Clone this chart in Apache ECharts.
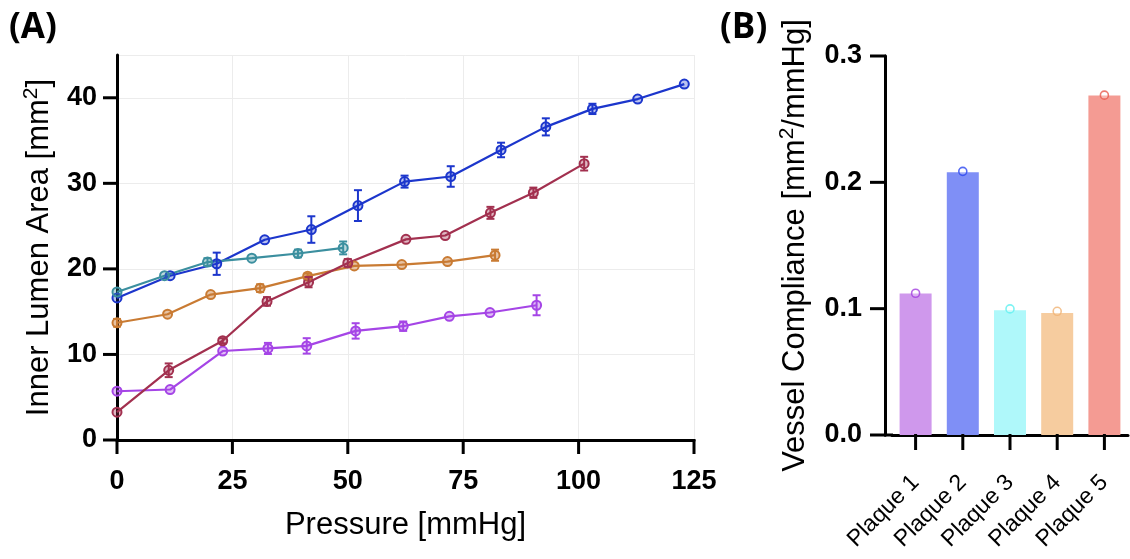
<!DOCTYPE html>
<html>
<head>
<meta charset="utf-8">
<script src="https://cdn.jsdelivr.net/npm/echarts@6/dist/echarts.min.js"></script>
<style>
  html, body { margin: 0; padding: 0; background: #fff; }
  #chart { width: 1130px; height: 559px; }
</style>
</head>
<body>
<div id="chart"></div>
<script>
// (A) Inner lumen area vs. pressure, one line per plaque (mean ± error)
const plaque1X = [0, 11.5, 22.9, 32.7, 41.1, 51.7, 62.0, 72.0, 80.8, 90.9];
const plaque1Y = [5.7, 5.9, 10.4, 10.7, 11.0, 12.75, 13.3, 14.45, 14.9, 15.75];
const plaque1Err = [0, 0, 0, 0.65, 0.9, 0.9, 0.55, 0, 0, 1.17];

const plaque2X = [0, 11.5, 21.6, 32.0, 42.1, 52.2, 62.3, 72.3, 83.2, 92.9, 103.0, 112.8, 122.9];
const plaque2Y = [16.6, 19.2, 20.6, 23.4, 24.6, 27.4, 30.2, 30.8, 33.9, 36.6, 38.7, 39.85, 41.6];
const plaque2Err = [0, 0, 1.3, 0, 1.55, 1.8, 0.7, 1.2, 0.85, 1.0, 0.6, 0, 0];

const plaque3X = [0, 10.3, 19.6, 29.2, 39.2, 49.0];
const plaque3Y = [17.3, 19.2, 20.8, 21.25, 21.8, 22.45];
const plaque3Err = [0, 0, 0.45, 0, 0.45, 0.75];

const plaque4X = [0, 10.95, 20.3, 31.0, 41.3, 51.4, 61.7, 71.6, 81.9];
const plaque4Y = [13.7, 14.7, 17.0, 17.75, 19.15, 20.35, 20.5, 20.85, 21.6];
const plaque4Err = [0.45, 0, 0, 0.45, 0.3, 0, 0, 0, 0.65];

const plaque5X = [0, 11.2, 22.9, 32.5, 41.5, 50.0, 62.6, 71.1, 80.9, 90.2, 101.2];
const plaque5Y = [3.25, 8.15, 11.6, 16.2, 18.45, 20.7, 23.45, 23.9, 26.55, 28.9, 32.3];
const plaque5Err = [0, 0.8, 0.3, 0.5, 0.6, 0.45, 0, 0, 0.7, 0.6, 0.8];

const pressureTicks = [0, 25, 50, 75, 100, 125];
const areaTicks = [0, 10, 20, 30, 40];

// (B) Vessel compliance per plaque
const plaqueNames = ['Plaque 1', 'Plaque 2', 'Plaque 3', 'Plaque 4', 'Plaque 5'];
const complianceMean = [0.112, 0.208, 0.0987, 0.0966, 0.2688];
const compliancePoint = [0.1122, 0.2087, 0.0998, 0.0979, 0.269];
const complianceTicks = [0, 0.1, 0.2, 0.3];

const lineColors = ['#a545e6', '#1c36cc', '#3b8f9f', '#c97b33', '#a2304f'];
const markerFills = ['rgba(165,69,230,0.35)', 'rgba(28,54,204,0.3)', 'rgba(59,143,159,0.35)', 'rgba(201,123,51,0.45)', 'rgba(162,48,79,0.35)'];
const barColors = ['#cf98ec', '#7f8ff6', '#aff8fa', '#f6cc9f', '#f49b93'];
const dotColors = ['#a23fe0', '#2b46f0', '#5ef0f0', '#f0b272', '#e95a4c'];

const TEXT = '"Liberation Sans", Arial, sans-serif';
const VALUE_AXIS_OFFSET = 7;

const lineSets = [
  [plaque1X, plaque1Y, plaque1Err],
  [plaque2X, plaque2Y, plaque2Err],
  [plaque3X, plaque3Y, plaque3Err],
  [plaque4X, plaque4Y, plaque4Err],
  [plaque5X, plaque5Y, plaque5Err]
];

function errorBarRender(params, api) {
  const err = api.value(2);
  if (!err) return null;
  const x = api.value(0), y = api.value(1);
  const top = api.coord([x, y + err]);
  const bot = api.coord([x, y - err]);
  const cap = 4;
  const style = { stroke: api.visual('color'), lineWidth: 2 };
  return {
    type: 'group',
    children: [
      { type: 'line', shape: { x1: top[0], y1: top[1], x2: bot[0], y2: bot[1] }, style },
      { type: 'line', shape: { x1: top[0] - cap, y1: top[1], x2: top[0] + cap, y2: top[1] }, style },
      { type: 'line', shape: { x1: bot[0] - cap, y1: bot[1], x2: bot[0] + cap, y2: bot[1] }, style }
    ]
  };
}

// outward tick marks, placed through the axis scales
function tickRenderer(dir, len, shift) {
  return function (params, api) {
    const p = api.coord([api.value(0), api.value(1)]);
    const tickStyle = { stroke: '#000', lineWidth: 3 };
    if (dir === 'down') {
      return { type: 'line', shape: { x1: p[0], y1: p[1] - 1, x2: p[0], y2: p[1] + len }, style: tickStyle };
    }
    const x0 = params.coordSys.x - (shift || 0);
    return { type: 'line', shape: { x1: x0 + 1, y1: p[1], x2: x0 - len, y2: p[1] }, style: tickStyle };
  };
}

const series = [];
lineSets.forEach(([xs, ys, es], i) => {
  series.push({
    type: 'line',
    xAxisIndex: 0, yAxisIndex: 0,
    data: xs.map((x, k) => [x, ys[k]]),
    symbol: 'circle',
    symbolSize: 9,
    lineStyle: { color: lineColors[i], width: 2.2 },
    itemStyle: { color: markerFills[i], borderColor: lineColors[i], borderWidth: 2 },
    z: 3,
    animation: false
  });
  series.push({
    type: 'custom',
    xAxisIndex: 0, yAxisIndex: 0,
    data: xs.map((x, k) => [x, ys[k], es[k]]),
    renderItem: errorBarRender,
    itemStyle: { color: lineColors[i] },
    z: 4,
    animation: false
  });
});

series.push({
  type: 'bar',
  xAxisIndex: 1, yAxisIndex: 1,
  data: complianceMean.map((v, i) => ({ value: v, itemStyle: { color: barColors[i] } })),
  barWidth: 32,
  animation: false
});
series.push({
  type: 'scatter',
  xAxisIndex: 1, yAxisIndex: 1,
  data: compliancePoint.map((v, i) => ({
    value: v,
    itemStyle: { color: 'rgba(255,255,255,0.35)', borderColor: dotColors[i], borderWidth: 1.6 }
  })),
  symbolSize: 8,
  z: 5,
  animation: false
});

// axis tick marks for both panels
const tickSeries = [
  { xAxisIndex: 0, yAxisIndex: 0, data: pressureTicks.map(v => [v, 0]), renderItem: tickRenderer('down', 14) },
  { xAxisIndex: 0, yAxisIndex: 0, data: areaTicks.map(v => [0, v]), renderItem: tickRenderer('left', 14, 0) },
  { xAxisIndex: 1, yAxisIndex: 1, data: plaqueNames.map((n, i) => [i, 0]), renderItem: tickRenderer('down', 15) },
  { xAxisIndex: 1, yAxisIndex: 1, data: complianceTicks.map(v => [0, v]), renderItem: tickRenderer('left', 15, VALUE_AXIS_OFFSET) }
];
tickSeries.forEach(t => series.push(Object.assign({
  type: 'custom', clip: false, silent: true, z: 10, animation: false, tooltip: { show: false }
}, t)));

const mkLine = () => ({ show: true, lineStyle: { color: '#000', width: 3 } });
const noTick = () => ({ show: false });
const mkLabel = (margin, extra) => Object.assign({
  color: '#000', fontFamily: TEXT, fontWeight: 'bold', fontSize: 27, margin
}, extra || {});
const titleRich = () => ({
  t: { color: '#000', fontFamily: TEXT, fontSize: 31, lineHeight: 36 },
  s: { color: '#000', fontFamily: TEXT, fontSize: 21, lineHeight: 18, verticalAlign: 'top' }
});

const option = {
  backgroundColor: '#fff',
  animation: false,
  grid: [
    { left: 117, right: 436, top: 55, bottom: 119 },
    { left: 892, right: 2, top: 56, bottom: 124 }
  ],
  xAxis: [
    {
      type: 'value', gridIndex: 0,
      min: pressureTicks[0], max: pressureTicks[pressureTicks.length - 1], interval: 25,
      axisLine: mkLine(), axisTick: noTick(),
      axisLabel: mkLabel(28),
      splitLine: { show: true, lineStyle: { color: '#ececec', width: 1 } },
      name: 'Pressure [mmHg]',
      nameLocation: 'middle',
      nameGap: 70,
      nameTextStyle: { color: '#000', fontFamily: TEXT, fontSize: 31 }
    },
    {
      type: 'category', gridIndex: 1,
      data: plaqueNames,
      axisLine: mkLine(),
      axisTick: noTick(),
      axisLabel: { color: '#000', fontFamily: TEXT, fontSize: 23, rotate: 45, margin: 44, interval: 0 },
      splitLine: { show: false }
    }
  ],
  yAxis: [
    {
      type: 'value', gridIndex: 0,
      min: 0, max: 45, interval: 10,
      axisLine: mkLine(),
      axisTick: noTick(),
      axisLabel: mkLabel(20, { formatter: v => (areaTicks.indexOf(v) >= 0 ? String(v) : '') }),
      splitLine: { show: true, lineStyle: { color: '#ececec', width: 1 } },
      name: '{t|Inner Lumen Area [mm}{s|2}{t|]}',
      nameLocation: 'middle',
      nameGap: 60,
      nameTextStyle: { rich: titleRich() }
    },
    {
      type: 'value', gridIndex: 1,
      min: complianceTicks[0], max: complianceTicks[complianceTicks.length - 1], interval: 0.1,
      offset: VALUE_AXIS_OFFSET,
      axisLine: mkLine(),
      axisTick: noTick(),
      axisLabel: mkLabel(23, { formatter: v => v.toFixed(1) }),
      splitLine: { show: false },
      name: '{t|Vessel Compliance [mm}{s|2}{t|/mmHg]}',
      nameLocation: 'middle',
      nameGap: 72,
      nameTextStyle: { rich: titleRich() }
    }
  ],
  graphic: [
    {
      type: 'text', left: 9, top: 11,
      style: { text: '(A)', fill: '#000', font: 'bold 35px "Open Sans", sans-serif' }
    },
    {
      type: 'text', left: 720, top: 11,
      style: { text: '(B)', fill: '#000', font: 'bold 35px "Open Sans", sans-serif' }
    },
    {
      // joins the category axis line to the offset value axis
      type: 'line', z: 10,
      shape: { x1: 884, y1: 435, x2: 893, y2: 435 },
      style: { stroke: '#000', lineWidth: 3 }
    }
  ],
  series
};

const chart = echarts.init(document.getElementById('chart'), null, { renderer: 'canvas' });
chart.setOption(option);
</script>
</body>
</html>
